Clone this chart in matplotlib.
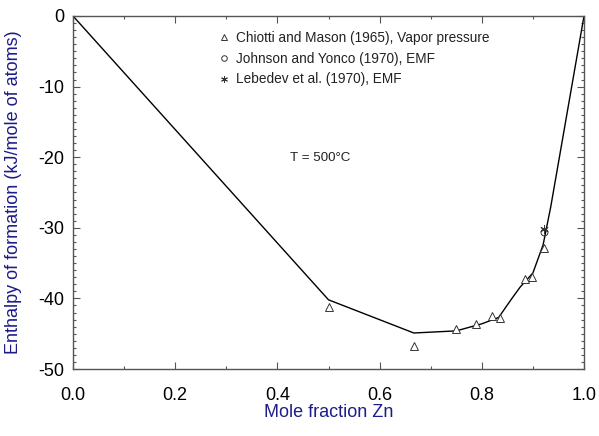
import matplotlib
matplotlib.use("Agg")
import matplotlib.pyplot as plt
from matplotlib.ticker import MultipleLocator

plt.rcParams['font.family'] = ['Liberation Sans', 'DejaVu Sans']

# Calculated enthalpy curve
line_x = [0.0, 0.5, 0.667, 0.75, 0.8, 0.833, 0.857, 0.875, 0.9, 0.92, 0.935, 1.0]
line_y = [0.0, -40.2, -44.9, -44.6, -43.6, -42.7, -40.2, -38.4, -36.4, -32.4, -27.0, 0.0]

# Experimental data
chiotti_x = [0.5, 0.667, 0.75, 0.789, 0.819, 0.836, 0.884, 0.898, 0.921]
chiotti_y = [-41.2, -46.7, -44.3, -43.6, -42.5, -42.8, -37.2, -36.9, -32.9]
johnson_x = [0.921]
johnson_y = [-30.6]
lebedev_x = [0.921]
lebedev_y = [-30.1]

labels = ["Chiotti and Mason (1965), Vapor pressure",
          "Johnson and Yonco (1970), EMF",
          "Lebedev et al. (1970), EMF"]
xticks = [0.0, 0.2, 0.4, 0.6, 0.8, 1.0]
yticks = [0, -10, -20, -30, -40, -50]

navy = '#1c1c8a'
spine = '#555555'

fig = plt.figure(figsize=(5.99, 4.36), dpi=100)
ax = fig.add_axes([73/599, 1-369/436, (584-73)/599, (369-16)/436])

ax.plot(line_x, line_y, color='black', lw=1.0, zorder=2)
h1, = ax.plot(chiotti_x, chiotti_y, linestyle='none', marker='^', markersize=6,
              markerfacecolor='white', markeredgecolor='#333333', markeredgewidth=0.7, zorder=3)
h2, = ax.plot(johnson_x, johnson_y, linestyle='none', marker='o', markersize=5,
              markerfacecolor='none', markeredgecolor='#333333', markeredgewidth=0.7, zorder=3)
h3, = ax.plot(lebedev_x, lebedev_y, linestyle='none', marker=(6, 2, 0), markersize=6,
              markeredgecolor='#333333', markeredgewidth=0.7, zorder=3)

leg = ax.legend([h1, h2, h3], labels, loc='upper left', bbox_to_anchor=(0.271, 0.981),
                frameon=False, fontsize=9.8, handlelength=0.6, handletextpad=0.6,
                labelspacing=0.5, markerscale=0.8, borderaxespad=0.2)
for t in leg.get_texts():
    t.set_color('#222222')

ax.text(0.483, 0.598, "T = 500\u00b0C", transform=ax.transAxes, fontsize=9.6,
        ha='center', va='center', color='#222222')

ax.set_xlim(0, 1)
ax.set_ylim(-50, 0)
ax.set_xticks(xticks)
ax.set_yticks(yticks)
ax.set_xticklabels([f"{v:.1f}" for v in xticks])
ax.set_yticklabels([str(v) for v in yticks])
ax.xaxis.set_minor_locator(MultipleLocator(0.1))
ax.yaxis.set_minor_locator(MultipleLocator(1))
ax.tick_params(which='both', direction='in', top=True, right=True, colors=spine,
               labelcolor='black', labelsize=13, width=0.8)
ax.tick_params(which='major', length=5, pad=6)
ax.tick_params(axis='x', which='major', pad=13)
ax.tick_params(which='minor', length=2.5)
for s in ax.spines.values():
    s.set_color(spine)
    s.set_linewidth(1.0)

ax.set_xlabel("Mole fraction Zn", color=navy, fontsize=13, labelpad=0)
ax.set_ylabel("Enthalpy of formation (kJ/mole of atoms)", color=navy, fontsize=13, labelpad=12)

fig.savefig("out.png", dpi=100)
